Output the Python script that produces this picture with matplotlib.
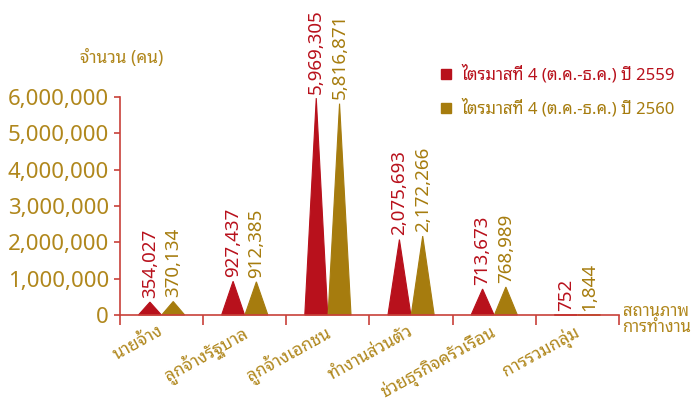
"""
Employed persons by work status, Q4 2559 vs Q4 2560 (triangle "peak" bars).
"""

import matplotlib
matplotlib.use("Agg")
import matplotlib.pyplot as plt
from matplotlib.lines import Line2D
from matplotlib.ticker import FuncFormatter

THAI = ['Noto Sans Thai Looped', 'Noto Sans', 'DejaVu Sans']
NUM = ['Noto Sans', 'DejaVu Sans']

categories = ['นายจ้าง', 'ลูกจ้างรัฐบาล', 'ลูกจ้างเอกชน', 'ทำงานส่วนตัว',
              'ช่วยธุรกิจครัวเรือน', 'การรวมกลุ่ม']
q4_2559 = [354027, 927437, 5969305, 2075693, 713673, 752]
q4_2560 = [370134, 912385, 5816871, 2172266, 768989, 1844]
series_names = ['ไตรมาสที่ 4 (ต.ค.-ธ.ค.) ปี 2559', 'ไตรมาสที่ 4 (ต.ค.-ธ.ค.) ปี 2560']
yticks = [0, 1000000, 2000000, 3000000, 4000000, 5000000, 6000000]

RED = '#B8111C'
GOLD = '#A67C0E'
AXIS = '#C8413A'
TXT_GOLD = '#B0871C'

fig = plt.figure(figsize=(6.94, 4.03), dpi=100)
ax = fig.add_axes([0.1729, 0.2184, 0.7190, 0.5409])

offset = 0.14
half = 0.138

def peak(ax, xc, v, color):
    ax.fill([xc - half, xc, xc + half], [0, v, 0], facecolor=color, edgecolor=color,
            lw=0.8, clip_on=False, zorder=2)

for i in range(len(categories)):
    xc = i + 0.5
    for xs, vals, col in [(xc - offset, q4_2559, RED), (xc + offset, q4_2560, GOLD)]:
        v = vals[i]
        peak(ax, xs, v, col)
        ax.annotate('{:,}'.format(v), (xs, v), xytext=(0, 3), textcoords='offset points',
                    rotation=90, ha='center', va='bottom', color=col,
                    fontsize=13.5, family=NUM, clip_on=False)

ax.set_xlim(0, 6)
ax.set_ylim(0, 6000000)
ax.set_yticks(yticks)
ax.yaxis.set_major_formatter(FuncFormatter(lambda v, p: '{:,}'.format(int(v))))
ax.set_xticks(range(7))
ax.set_xticklabels([])

for s in ['top', 'right']:
    ax.spines[s].set_visible(False)
for s in ['left', 'bottom']:
    ax.spines[s].set_color(AXIS)
    ax.spines[s].set_linewidth(1.2)
ax.tick_params(axis='y', colors=AXIS, labelcolor=TXT_GOLD, length=4, width=1.2, pad=4)
ax.tick_params(axis='x', colors=AXIS, length=7, width=1.2)
for lab in ax.get_yticklabels():
    lab.set_fontsize(16)
    lab.set_family(NUM)

# category labels, slanted, right end under category centre
for i, c in enumerate(categories):
    ax.annotate(c, (i + 0.5, 0), xytext=(-3, -5), textcoords='offset points',
                rotation=29, rotation_mode='anchor', ha='right', va='top',
                color=TXT_GOLD, fontsize=12.5, family=THAI, annotation_clip=False)

fig.text(0.897, 0.205, 'สถานภาพ\nการทำงาน', color=TXT_GOLD, fontsize=12, family=THAI,
         ha='left', va='center', linespacing=1.0)
fig.text(0.175, 0.855, 'จำนวน (คน)', color=TXT_GOLD, fontsize=12.5, family=THAI,
         ha='center', va='center')

handles = [Line2D([], [], marker='s', color='none', markerfacecolor=RED, markeredgecolor=RED,
                  markersize=7, label=series_names[0]),
           Line2D([], [], marker='s', color='none', markerfacecolor=GOLD, markeredgecolor=GOLD,
                  markersize=7, label=series_names[1])]
leg = fig.legend(handles=handles, loc='upper left', bbox_to_anchor=(0.612, 0.875),
                 frameon=False, labelcolor='markerfacecolor', handlelength=0.8,
                 handletextpad=0.5, labelspacing=0.9, prop={'family': THAI, 'size': 12})

fig.savefig('out.png', dpi=100)
